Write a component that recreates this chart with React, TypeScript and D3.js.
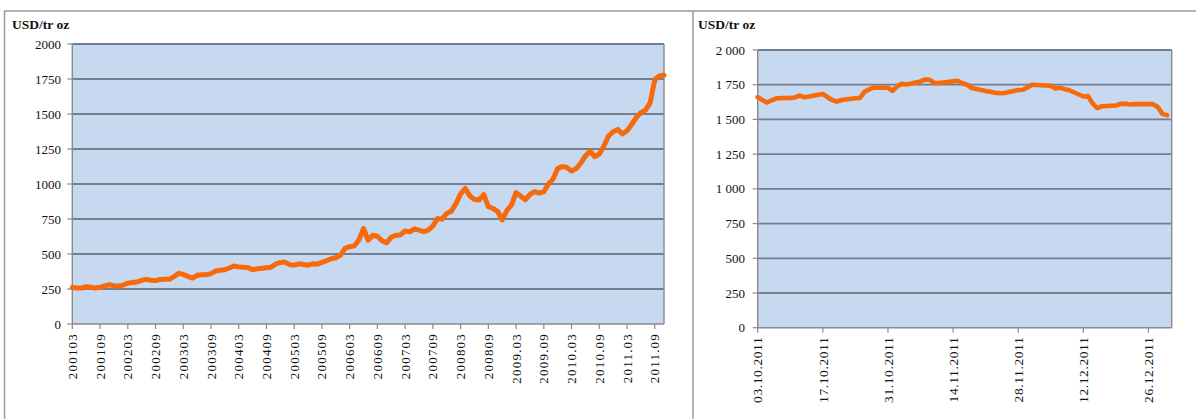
import React from "react";
import * as d3 from "d3";

// ---------- Left chart: monthly gold price, 2001-03 .. 2011-11 ----------
const leftValues: number[] = [
  260, 258, 257, 266, 262, 257, 262, 272, 280, 272,
  271, 278, 292, 296, 300, 312, 319, 313, 310, 318,
  319, 320, 338, 362, 354, 340, 328, 348, 352, 352,
  360, 378, 384, 388, 400, 414, 408, 405, 404, 388,
  395, 398, 402, 406, 428, 440, 442, 424, 420, 430,
  425, 420, 430, 428, 440, 452, 466, 473, 492, 540,
  552, 558, 600, 682, 598, 634, 627, 595, 580, 620,
  634, 636, 665, 658, 680, 670, 660, 670, 700, 754,
  749, 790, 806, 860, 929, 969, 915, 890, 886, 925,
  838, 825, 805, 743, 810, 850, 938, 914, 886, 925,
  945, 935, 945, 1000, 1035, 1110, 1125, 1118, 1093, 1110,
  1150, 1200, 1235, 1195, 1214, 1271, 1343, 1374, 1390, 1357,
  1381, 1425, 1475, 1510, 1528, 1580, 1745, 1772, 1777,
];
const leftTickLabels: string[] = [
  "200103", "200109", "200203", "200209", "200303", "200309", "200403",
  "200409", "200503", "200509", "200603", "200609", "200703", "200709",
  "200803", "200809", "2009.03", "2009.09", "2010.03", "2010.09",
  "2011.03", "2011.09",
];
const leftTickStep = 6; // months between labelled ticks
const leftYTicks: number[] = [0, 250, 500, 750, 1000, 1250, 1500, 1750, 2000];

// ---------- Right chart: daily gold price, Oct–Dec 2011 ----------
const rightDates: string[] = [
  "03.10.2011", "04.10.2011", "05.10.2011", "06.10.2011", "07.10.2011",
  "10.10.2011", "11.10.2011", "12.10.2011", "13.10.2011", "14.10.2011",
  "17.10.2011", "18.10.2011", "19.10.2011", "20.10.2011", "21.10.2011",
  "24.10.2011", "25.10.2011", "26.10.2011", "27.10.2011", "28.10.2011",
  "31.10.2011", "01.11.2011", "02.11.2011", "03.11.2011", "04.11.2011",
  "07.11.2011", "08.11.2011", "09.11.2011", "10.11.2011", "11.11.2011",
  "14.11.2011", "15.11.2011", "16.11.2011", "17.11.2011", "18.11.2011",
  "21.11.2011", "22.11.2011", "23.11.2011", "24.11.2011", "25.11.2011",
  "28.11.2011", "29.11.2011", "30.11.2011", "01.12.2011", "02.12.2011",
  "05.12.2011", "06.12.2011", "07.12.2011", "08.12.2011", "09.12.2011",
  "12.12.2011", "13.12.2011", "14.12.2011", "15.12.2011", "16.12.2011",
  "19.12.2011", "20.12.2011", "21.12.2011", "22.12.2011", "23.12.2011",
  "26.12.2011", "27.12.2011", "28.12.2011", "29.12.2011", "30.12.2011",
];
const rightValues: number[] = [
  1660, 1640, 1622, 1638, 1652,
  1655, 1658, 1672, 1660, 1665,
  1683, 1660, 1640, 1628, 1640,
  1652, 1655, 1700, 1716, 1730,
  1728, 1705, 1740, 1756, 1752,
  1774, 1788, 1785, 1762, 1762,
  1774, 1778, 1760, 1750, 1726,
  1705, 1700, 1692, 1688, 1690,
  1712, 1714, 1730, 1750, 1748,
  1742, 1722, 1728, 1718, 1710,
  1665, 1668, 1615, 1582, 1595,
  1600, 1612, 1612, 1608, 1610,
  1610, 1610, 1590, 1540, 1531,
];
const rightTickLabels: string[] = [
  "03.10.2011", "17.10.2011", "31.10.2011", "14.11.2011",
  "28.11.2011", "12.12.2011", "26.12.2011",
];
const rightYTicks: number[] = [0, 250, 500, 750, 1000, 1250, 1500, 1750, 2000];
const rightDomainEnd = "31.12.2011";

const unitLabel = "USD/tr oz";

const FONT = "'Liberation Serif', 'Times New Roman', serif";
const PLOT_FILL = "#c6d9f0";
const GRID = "#737f8f";
const AXIS = "#8a8a8a";
const LINE = "#f66a0c";
const FRAME = "#9a9a9a";

const parseDate = d3.timeParse("%d.%m.%Y");

function fmtSpace(v: number): string {
  if (v < 1000) return String(v);
  const th = Math.floor(v / 1000);
  const rest = String(v % 1000).padStart(3, "0");
  return `${th} ${rest}`;
}

function LeftChart() {
  const x0 = 72.3;
  const x1 = 664;
  const y0 = 324;
  const y1 = 44;
  const x = d3.scaleLinear().domain([0, leftValues.length - 1]).range([x0, x1]);
  const y = d3.scaleLinear().domain([0, 2000]).range([y0, y1]);
  const line = d3
    .line<number>()
    .x((_, i) => x(i))
    .y((d) => y(d));
  return (
    <g>
      <rect x={x0} y={y1} width={x1 - x0} height={y0 - y1} fill={PLOT_FILL} />
      {leftYTicks.map((t) => (
        <g key={t}>
          {t > 0 && (
            <line x1={x0} x2={x1} y1={y(t)} y2={y(t)} stroke={GRID} strokeWidth={1.8} />
          )}
          <line x1={x0 - 5} x2={x0} y1={y(t)} y2={y(t)} stroke={AXIS} strokeWidth={1.2} />
          <text
            x={61}
            y={y(t)}
            dy="0.35em"
            textAnchor="end"
            fontFamily={FONT}
            fontSize={13}
            fill="#111"
          >
            {t}
          </text>
        </g>
      ))}
      <line x1={x1} x2={x1} y1={y1} y2={y0} stroke={AXIS} strokeWidth={1.4} />
      <line x1={x0} x2={x0} y1={y1} y2={y0} stroke={AXIS} strokeWidth={1.4} />
      <line x1={x0} x2={x1} y1={y0} y2={y0} stroke={AXIS} strokeWidth={1.4} />
      {leftTickLabels.map((lab, i) => {
        const xi = x(i * leftTickStep);
        return (
          <g key={lab}>
            <line x1={xi} x2={xi} y1={y0} y2={y0 + 5} stroke={AXIS} strokeWidth={1.2} />
            <text
              transform={`translate(${xi},${y0 + 9}) rotate(-90)`}
              textAnchor="end"
              dy="0.35em"
              fontFamily={FONT}
              fontSize={13}
              letterSpacing={1.2}
              fill="#111"
            >
              {lab}
            </text>
          </g>
        );
      })}
      <path
        d={line(leftValues) || ""}
        fill="none"
        stroke={LINE}
        strokeWidth={5}
        strokeLinejoin="round"
        strokeLinecap="round"
      />
    </g>
  );
}

function RightChart() {
  const x0 = 757.7;
  const x1 = 1171.7;
  const y0 = 327.7;
  const y1 = 50;
  const start = parseDate(rightDates[0]) as Date;
  const end = parseDate(rightDomainEnd) as Date;
  const x = d3.scaleTime().domain([start, end]).range([x0, x1]);
  const y = d3.scaleLinear().domain([0, 2000]).range([y0, y1]);
  const pts = rightDates.map((d, i) => ({ d: parseDate(d) as Date, v: rightValues[i] }));
  const line = d3
    .line<{ d: Date; v: number }>()
    .x((p) => x(p.d))
    .y((p) => y(p.v));
  return (
    <g>
      <rect x={x0} y={y1} width={x1 - x0} height={y0 - y1} fill={PLOT_FILL} />
      {rightYTicks.map((t) => (
        <g key={t}>
          {t > 0 && (
            <line x1={x0} x2={x1} y1={y(t)} y2={y(t)} stroke={GRID} strokeWidth={1.8} />
          )}
          <line x1={x0 - 5} x2={x0} y1={y(t)} y2={y(t)} stroke={AXIS} strokeWidth={1.2} />
          <text
            x={745}
            y={y(t)}
            dy="0.35em"
            textAnchor="end"
            fontFamily={FONT}
            fontSize={13}
            fill="#111"
          >
            {fmtSpace(t)}
          </text>
        </g>
      ))}
      <line x1={x1} x2={x1} y1={y1} y2={y0} stroke={AXIS} strokeWidth={1.4} />
      <line x1={x0} x2={x0} y1={y1} y2={y0} stroke={AXIS} strokeWidth={1.4} />
      <line x1={x0} x2={x1} y1={y0} y2={y0} stroke={AXIS} strokeWidth={1.4} />
      {rightTickLabels.map((lab) => {
        const xi = x(parseDate(lab) as Date);
        return (
          <g key={lab}>
            <line x1={xi} x2={xi} y1={y0} y2={y0 + 5} stroke={AXIS} strokeWidth={1.2} />
            <text
              transform={`translate(${xi},${y0 + 9}) rotate(-90)`}
              textAnchor="end"
              dy="0.35em"
              fontFamily={FONT}
              fontSize={13.5}
              letterSpacing={0.6}
              fill="#111"
            >
              {lab}
            </text>
          </g>
        );
      })}
      <path
        d={line(pts) || ""}
        fill="none"
        stroke={LINE}
        strokeWidth={4.6}
        strokeLinejoin="round"
        strokeLinecap="round"
      />
    </g>
  );
}

export default function App() {
  return (
    <svg
      width={1197}
      height={419}
      style={{ position: "absolute", left: 0, top: 0, background: "#fff" }}
    >
      <rect x={0} y={0} width={1197} height={419} fill="#fff" />
      <line x1={4} x2={1196} y1={11} y2={11} stroke={FRAME} strokeWidth={1.5} />
      <line x1={4.5} x2={4.5} y1={11} y2={419} stroke={FRAME} strokeWidth={1.5} />
      <line x1={693} x2={693} y1={11} y2={419} stroke={FRAME} strokeWidth={1.5} />
      <text x={12} y={29} fontFamily={FONT} fontSize={13.5} fontWeight="bold" fill="#111">
        {unitLabel}
      </text>
      <text x={698} y={29} fontFamily={FONT} fontSize={13.5} fontWeight="bold" fill="#111">
        {unitLabel}
      </text>
      <LeftChart />
      <RightChart />
    </svg>
  );
}
